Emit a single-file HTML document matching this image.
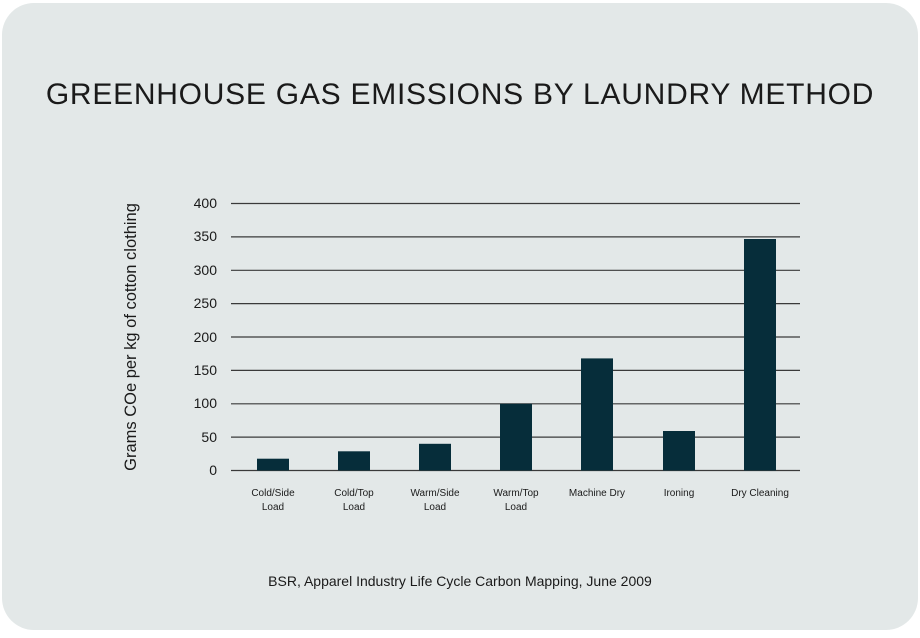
<!DOCTYPE html>
<html><head><style>
body{margin:0;background:#fff;width:920px;height:633px;overflow:hidden;font-family:"Liberation Sans",sans-serif}
</style></head><body>
<svg width="920" height="633" xmlns="http://www.w3.org/2000/svg" font-family="Liberation Sans, sans-serif">
<rect x="2" y="3" width="916" height="627" rx="32" fill="#e3e8e8"/>
<text x="460" y="104" text-anchor="middle" font-size="30" fill="#1a1a1a" letter-spacing="0.75">GREENHOUSE GAS EMISSIONS BY LAUNDRY METHOD</text>
<g stroke="#3a3a3a" stroke-width="1.2">
<line x1="231" x2="800" y1="203.5" y2="203.5"/><line x1="231" x2="800" y1="236.9" y2="236.9"/>
<line x1="231" x2="800" y1="270.3" y2="270.3"/><line x1="231" x2="800" y1="303.6" y2="303.6"/>
<line x1="231" x2="800" y1="337" y2="337"/><line x1="231" x2="800" y1="370.4" y2="370.4"/>
<line x1="231" x2="800" y1="403.8" y2="403.8"/><line x1="231" x2="800" y1="437.1" y2="437.1"/>
<line x1="231" x2="800" y1="470.5" y2="470.5"/>
</g>
<g font-size="14" fill="#1a1a1a" text-anchor="end">
<text x="217" y="208">400</text><text x="217" y="241">350</text><text x="217" y="275">300</text>
<text x="217" y="308">250</text><text x="217" y="342">200</text><text x="217" y="375">150</text>
<text x="217" y="408">100</text><text x="217" y="442">50</text><text x="217" y="475">0</text>
</g>
<g fill="#062d3a">
<rect x="257" y="458.7" width="32" height="11.8"/>
<rect x="338" y="451.3" width="32" height="19.2"/>
<rect x="419" y="443.8" width="32" height="26.7"/>
<rect x="500" y="403.8" width="32" height="66.7"/>
<rect x="581" y="358.4" width="32" height="112.1"/>
<rect x="663" y="431" width="32" height="39.5"/>
<rect x="744" y="239" width="32" height="231.5"/>
</g>
<g font-size="10" fill="#1a1a1a" text-anchor="middle">
<text x="273" y="496">Cold/Side</text><text x="273" y="510">Load</text>
<text x="354" y="496">Cold/Top</text><text x="354" y="510">Load</text>
<text x="435" y="496">Warm/Side</text><text x="435" y="510">Load</text>
<text x="516" y="496">Warm/Top</text><text x="516" y="510">Load</text>
<text x="597" y="496">Machine Dry</text>
<text x="679" y="496">Ironing</text>
<text x="760" y="496">Dry Cleaning</text>
</g>
<text transform="translate(136,337) rotate(-90)" text-anchor="middle" font-size="16.5" fill="#1a1a1a">Grams COe per kg of cotton clothing</text>
<text x="460" y="586" text-anchor="middle" font-size="14" fill="#1a1a1a">BSR, Apparel Industry Life Cycle Carbon Mapping, June 2009</text>
</svg>
</body></html>
